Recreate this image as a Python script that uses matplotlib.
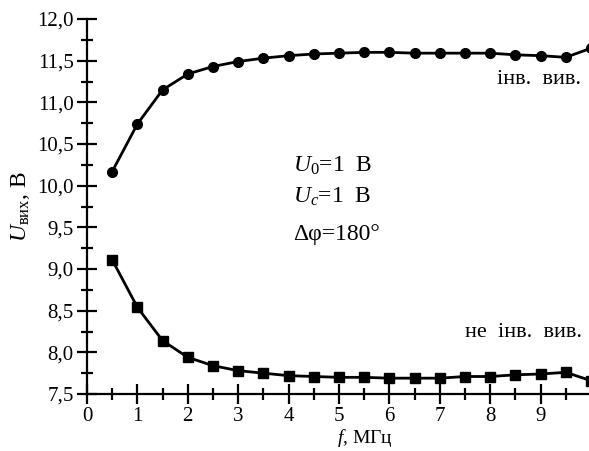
import matplotlib
matplotlib.use('Agg')
import matplotlib.pyplot as plt
from matplotlib.ticker import MultipleLocator, FuncFormatter

plt.rcParams['font.family'] = ['Liberation Serif', 'DejaVu Serif']
plt.rcParams['mathtext.fontset'] = 'custom'
plt.rcParams['mathtext.rm'] = 'Liberation Serif'
plt.rcParams['mathtext.it'] = 'Liberation Serif:italic'

# frequency, MHz
f = [0.5, 1.0, 1.5, 2.0, 2.5, 3.0, 3.5, 4.0, 4.5, 5.0,
     5.5, 6.0, 6.5, 7.0, 7.5, 8.0, 8.5, 9.0, 9.5, 10.0]
# inverted output, V
u_inv = [10.17, 10.74, 11.15, 11.34, 11.43, 11.49, 11.53, 11.56, 11.58, 11.59,
         11.60, 11.60, 11.59, 11.59, 11.59, 11.59, 11.57, 11.56, 11.54, 11.65]
# non-inverted output, V
u_noninv = [9.11, 8.54, 8.14, 7.94, 7.84, 7.78, 7.75, 7.72, 7.71, 7.70,
            7.70, 7.69, 7.69, 7.69, 7.71, 7.71, 7.73, 7.74, 7.76, 7.66]

fig = plt.figure(figsize=(5.89, 4.51), dpi=100)
ax = fig.add_axes([87/589, 57/451, 502/589, 375/451])

ax.plot(f, u_inv, color='black', lw=2, marker='o', ms=7, clip_on=False)
ax.plot(f, u_noninv, color='black', lw=2, marker='s', ms=6.5, clip_on=False)

ax.set_xlim(0, 9.96)
ax.set_ylim(7.5, 12.0)

for s in ['top', 'right']:
    ax.spines[s].set_visible(False)
for s in ['left', 'bottom']:
    ax.spines[s].set_linewidth(1.6)

ax.set_xticks(range(0, 10))
ax.xaxis.set_minor_locator(MultipleLocator(0.5))
ax.yaxis.set_major_locator(MultipleLocator(0.5))
ax.yaxis.set_minor_locator(MultipleLocator(0.25))
ax.yaxis.set_major_formatter(FuncFormatter(lambda v, p: ('%.1f' % v).replace('.', ',')))
ax.tick_params(which='major', direction='inout', length=15, width=1.6, labelsize=15, pad=2)
ax.tick_params(which='minor', direction='inout', length=8, width=1.6)

ax.set_xlabel(r'$f$, МГц', fontsize=14, va='center')
ax.xaxis.set_label_coords((365 - 87) / 502, -0.118)
ax.set_ylabel(r'$U_{\mathrm{вих}}$, В', fontsize=17, labelpad=4)

ax.text(9.8, 11.28, 'інв.  вив.', fontsize=16, ha='right', va='center')
ax.text(9.82, 8.24, 'не  інв.  вив.', fontsize=16, ha='right', va='center')
ax.text(4.09, 10.24, r'$U_0$=1  В', fontsize=17, ha='left', va='center')
ax.text(4.09, 9.86, r'$U_c$=1  В', fontsize=17, ha='left', va='center')
ax.text(4.09, 9.41, 'Δφ=180°', fontsize=17, ha='left', va='center')

fig.savefig('out.png', dpi=100)
